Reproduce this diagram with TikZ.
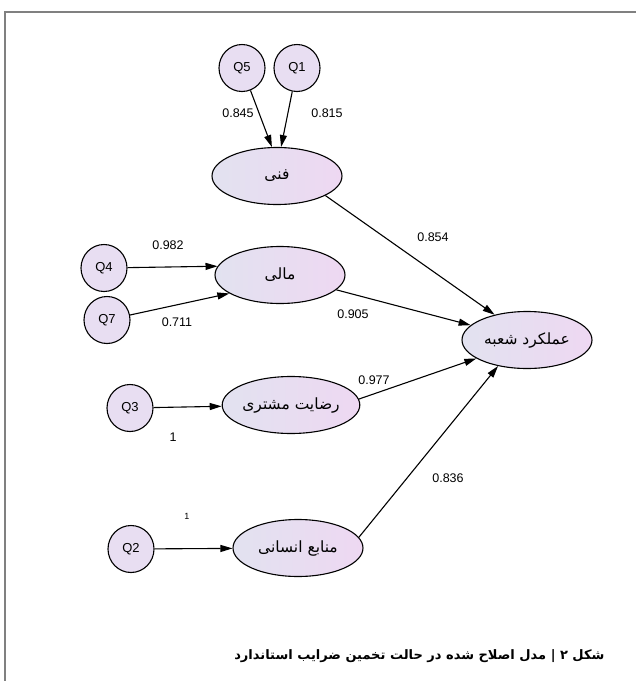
\documentclass[tikz,border=0pt]{standalone}
\usepackage{fontspec}
\setmainfont{Liberation Sans}
\newfontfamily\farsi[Script=Arabic]{DejaVu Sans}
\usetikzlibrary{shapes.geometric,arrows.meta}
\TeXXeTstate=1
\definecolor{frameg}{RGB}{128,128,128}
\definecolor{latl}{RGB}{226,226,240}
\definecolor{latr}{RGB}{238,216,242}
\definecolor{obsf}{RGB}{232,222,242}
\tikzset{semfig/.style={x=1pt,y=-1pt},
  obs/.style={ellipse,draw,line width=1.1pt,fill=obsf,minimum width=46pt,minimum height=47pt,inner sep=0pt,font=\fontsize{13}{15}\selectfont},
  lat/.style={ellipse,draw,line width=1.1pt,left color=latl,right color=latr,minimum width=130pt,minimum height=57pt,inner sep=0pt,font=\farsi\fontsize{15.5}{18}\selectfont},
  ld/.style={-{Triangle[length=12pt,width=7pt]},line width=1.1pt},
  coef/.style={font=\fontsize{12.5}{14}\selectfont}}

\begin{document}
\begin{tikzpicture}[semfig]
    \useasboundingbox (0,0) rectangle (636,681);
    \draw[frameg,line width=1.5pt] (5,681) -- (5,12) -- (636,12);
    % latent variables
    \node[lat] (fani)  at (277,176) {\beginR فنی\endR};
    \node[lat] (mali)  at (280,275) {\beginR مالی\endR};
    \node[lat] (reza)  at (291,405) {\beginR رضایت مشتری\endR};
    \node[lat] (ensan) at (298,548) {\beginR منابع انسانی\endR};
    \node[lat] (amal)  at (527,340) {\beginR عملکرد شعبه\endR};
    % items
    \node[obs] (q5) at (242,68)  {Q5};
    \node[obs] (q1) at (297,68)  {Q1};
    \node[obs] (q4) at (104,268) {Q4};
    \node[obs] (q7) at (107,320) {Q7};
    \node[obs] (q3) at (130,408) {Q3};
    \node[obs] (q2) at (131,549) {Q2};
    \draw[ld] (q5) -- (fani.100);
    \draw[ld] (q1) -- (fani.82);
    \draw[ld] (q4) -- (mali.172);
    \draw[ld] (q7) -- (mali.200);
    \draw[ld] (q3) -- (reza);
    \draw[ld] (q2) -- (ensan);
    \draw[ld] (fani.-22) -- (amal.142);
    \draw[ld] (mali) -- (amal);
    \draw[ld] (reza.5) -- (amal.200);
    \draw[ld] (ensan.10) -- (amal.222);
    % loadings and paths
    \node[coef] (c845) at (238,113) {0.845};
    \node[coef] (c815) at (327,113) {0.815};
    \node[coef] (c982) at (168,245) {0.982};
    \node[coef] (c711) at (177,322) {0.711};
    \node[coef] (c854) at (433,237) {0.854};
    \node[coef] (c905) at (353,314) {0.905};
    \node[coef] (c977) at (374,380) {0.977};
    \node[coef] (c836) at (448,478) {0.836};
    \node[coef] (cq3)  at (173,437) {1};
    \node[font=\fontsize{9}{10}\selectfont] (cq2) at (187,516) {1};
    \node[anchor=east,font=\farsi\bfseries\fontsize{13}{15}\selectfont] (cap) at (608,656)
      {\beginR شکل ۲ | مدل اصلاح شده در حالت تخمین ضرایب استاندارد\endR};
\end{tikzpicture}
\end{document}
